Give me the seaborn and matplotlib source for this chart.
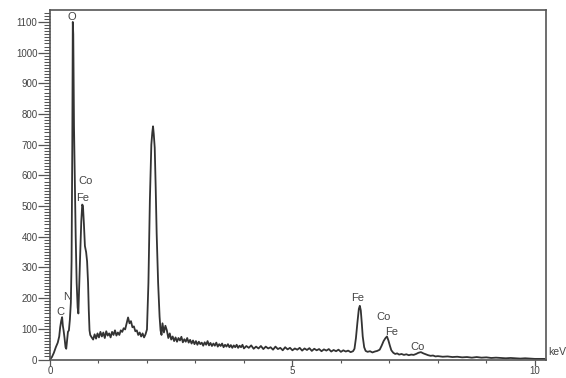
import matplotlib
matplotlib.use("Agg")
import matplotlib.pyplot as plt
import seaborn as sns
import pandas as pd
from matplotlib.ticker import MultipleLocator, FixedLocator

# ---- data ----
energy_low = [0.00, 0.04, 0.08, 0.12, 0.16, 0.19, 0.21, 0.23, 0.25, 0.265, 0.28, 0.30, 0.32, 0.335,
              0.35, 0.37, 0.39, 0.41, 0.43, 0.445, 0.46, 0.47, 0.48, 0.495, 0.51, 0.53, 0.55, 0.57,
              0.585, 0.60, 0.62, 0.645, 0.665, 0.68, 0.70, 0.72, 0.745, 0.765, 0.785, 0.80, 0.815, 0.83,
              0.86, 0.89, 0.92, 0.95, 0.98, 1.01, 1.04, 1.07, 1.10, 1.13, 1.16, 1.19, 1.22, 1.25,
              1.28, 1.31, 1.34, 1.37, 1.40, 1.43, 1.46, 1.49, 1.52, 1.55, 1.58, 1.61, 1.64, 1.67,
              1.70, 1.73, 1.76, 1.79, 1.82, 1.85, 1.88, 1.91, 1.94, 1.97, 2.00, 2.03, 2.06, 2.09,
              2.11, 2.125, 2.14, 2.16, 2.18, 2.20, 2.23, 2.26, 2.28, 2.30, 2.32, 2.35, 2.38, 2.41,
              2.44, 2.47]
counts_low = [0, 8, 22, 40, 55, 75, 105, 125, 138, 110, 95, 70, 40, 35,
              60, 90, 95, 130, 185, 320, 700, 1100, 1060, 760, 600, 400, 250, 170,
              150, 230, 330, 450, 505, 500, 440, 370, 350, 320, 250, 160, 95, 80,
              72, 65, 82, 68, 85, 72, 90, 75, 88, 70, 92, 78, 85, 72,
              90, 80, 95, 78, 88, 80, 95, 90, 102, 98, 118, 137, 118, 125,
              105, 108, 92, 95, 80, 88, 75, 85, 72, 82, 98, 250, 520, 700,
              740, 760, 735, 690, 560, 410, 250, 140, 95, 80, 118, 88, 110, 95,
              70, 85]

energy_mid = [2.50, 2.53, 2.56, 2.59, 2.62, 2.65, 2.68, 2.71, 2.74, 2.77, 2.80, 2.83, 2.86, 2.89,
              2.92, 2.95, 2.98, 3.01, 3.04, 3.07, 3.10, 3.13, 3.16, 3.19, 3.22, 3.25, 3.28, 3.31,
              3.34, 3.37, 3.40, 3.43, 3.46, 3.49, 3.52, 3.55, 3.58, 3.61, 3.64, 3.67, 3.70, 3.73,
              3.76, 3.79, 3.82, 3.85, 3.88, 3.91, 3.94, 3.97, 4.00, 4.05, 4.10, 4.15, 4.20, 4.25,
              4.30, 4.35, 4.40, 4.45, 4.50, 4.55, 4.60, 4.65, 4.70, 4.75, 4.80, 4.85, 4.90, 4.95,
              5.00, 5.05, 5.10, 5.15, 5.20, 5.25, 5.30, 5.35, 5.40, 5.45, 5.50, 5.55, 5.60, 5.65,
              5.70, 5.75, 5.80, 5.85, 5.90, 5.95, 6.00, 6.05, 6.10, 6.15, 6.20, 6.25]
counts_mid = [65, 75, 60, 72, 58, 70, 62, 74, 56, 66, 58, 70, 55, 64,
              52, 62, 50, 60, 48, 58, 50, 55, 45, 56, 48, 60, 46, 54,
              44, 52, 45, 55, 42, 50, 44, 52, 40, 48, 42, 50, 40, 47,
              38, 46, 40, 48, 38, 45, 40, 48, 36, 44, 38, 46, 35, 42,
              36, 44, 34, 42, 36, 40, 32, 42, 34, 38, 30, 40, 33, 38,
              30, 36, 32, 38, 29, 36, 31, 37, 28, 35, 30, 34, 27, 33,
              29, 34, 26, 31, 27, 32, 25, 30, 26, 29, 24, 27]

energy_high = [6.28, 6.31, 6.34, 6.37, 6.39, 6.41, 6.43, 6.45, 6.48, 6.51, 6.55, 6.60, 6.65, 6.70,
               6.75, 6.80, 6.84, 6.88, 6.92, 6.95, 6.98, 7.01, 7.04, 7.08, 7.12, 7.16, 7.20, 7.25,
               7.30, 7.35, 7.40, 7.45, 7.50, 7.55, 7.60, 7.65, 7.70, 7.75, 7.80, 7.85, 7.90, 7.95,
               8.00, 8.10, 8.20, 8.30, 8.40, 8.50, 8.60, 8.70, 8.80, 8.90, 9.00, 9.10, 9.20, 9.30,
               9.40, 9.50, 9.60, 9.70, 9.80, 9.90, 10.00, 10.10, 10.20]
counts_high = [35, 70, 120, 165, 175, 160, 120, 75, 40, 28, 25, 27, 23, 26,
               28, 32, 45, 60, 70, 75, 62, 45, 30, 22, 18, 20, 16, 18,
               15, 17, 14, 16, 15, 18, 22, 24, 20, 17, 14, 12, 13, 10,
               11, 9, 10, 8, 9, 7, 8, 6, 8, 6, 7, 5, 6, 5,
               4, 5, 4, 3, 4, 3, 2, 2, 2]

peak_labels = ["O", "Co", "Fe", "N", "C", "Fe", "Co", "Fe", "Co"]
label_x = [0.45, 0.74, 0.68, 0.35, 0.21, 6.35, 6.87, 7.05, 7.59]
label_y = [1116, 582, 527, 205, 156, 202, 140, 88, 42]

x_major = [0, 5, 10]
y_major = [0, 100, 200, 300, 400, 500, 600, 700, 800, 900, 1000, 1100]

# ---- build frame ----
df = pd.DataFrame({
    "Energy": energy_low + energy_mid + energy_high,
    "Counts": counts_low + counts_mid + counts_high,
})

sns.set_theme(style="ticks")
plt.rcParams["font.family"] = ["Liberation Sans", "DejaVu Sans"]

fig = plt.figure(figsize=(5.66, 3.78), dpi=100)
ax = fig.add_axes([50 / 566, 1 - 359.5 / 378, (546 - 50) / 566, (359.5 - 10) / 378])

sns.lineplot(data=df, x="Energy", y="Counts", ax=ax, color="#333333", linewidth=1.3,
             estimator=None, sort=False)

ax.set_xlim(0, 10.23)
ax.set_ylim(0, 1139)
ax.set_xlabel("")
ax.set_ylabel("")

ax.xaxis.set_major_locator(FixedLocator(x_major))
ax.xaxis.set_minor_locator(MultipleLocator(1))
ax.yaxis.set_major_locator(FixedLocator(y_major))
ax.yaxis.set_minor_locator(MultipleLocator(10))

ax.tick_params(axis="y", which="major", length=8.5, width=0.9, color="#555555",
               labelsize=7, labelcolor="#444444", pad=0.5, direction="out")
ax.tick_params(axis="y", which="minor", length=4.3, width=0.75, color="#555555", direction="out")
ax.tick_params(axis="x", which="major", length=4, width=0.9, color="#555555",
               labelsize=7, labelcolor="#444444", pad=1, direction="out")
ax.tick_params(axis="x", which="minor", length=2.5, width=0.8, color="#555555", direction="out")

for side in ["left", "right", "top", "bottom"]:
    ax.spines[side].set_visible(True)
    ax.spines[side].set_color("#555555")
    ax.spines[side].set_linewidth(1.2)

for t, xx, yy in zip(peak_labels, label_x, label_y):
    ax.text(xx, yy, t, ha="center", va="center", fontsize=8, color="#444444")

ax.text(10.27, 23, "keV", ha="left", va="center", fontsize=7.5, color="#444444", clip_on=False)

fig.savefig("out.png", dpi=100)
